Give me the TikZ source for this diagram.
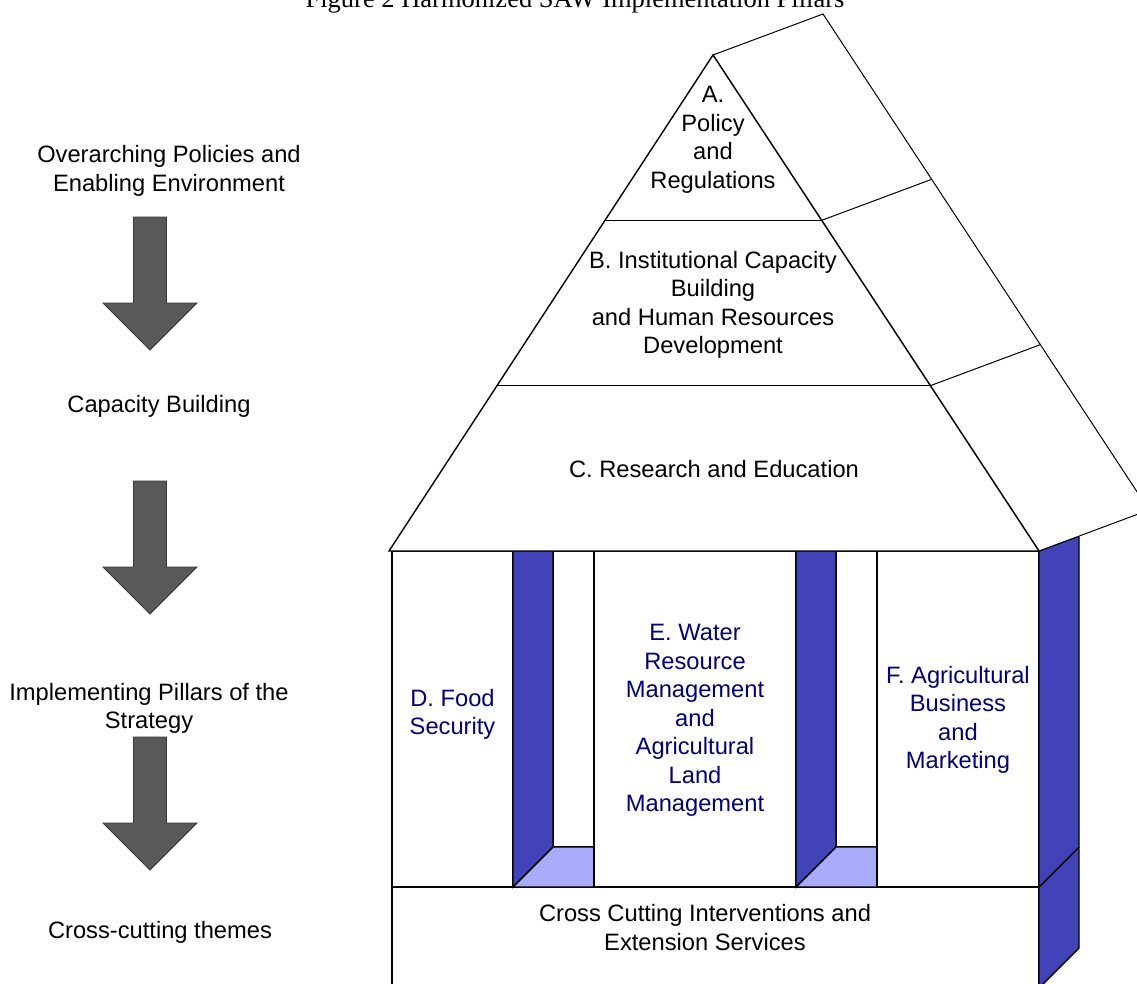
\documentclass[tikz,border=0pt]{standalone}
\usepackage{fontspec}
\setmainfont{Liberation Serif}
\newfontfamily\arialfont{Liberation Sans}
\usetikzlibrary{calc}

\definecolor{pillarblue}{RGB}{66,66,185}
\definecolor{floorblue}{RGB}{170,170,250}
\definecolor{labelnavy}{RGB}{0,0,128}
\definecolor{arrowgray}{RGB}{89,89,89}
\definecolor{arrowedge}{RGB}{55,55,55}

\tikzset{
  downarrow/.pic={
    \filldraw[fill=arrowgray, draw=arrowedge, line width=0.8pt, line join=miter]
      (-16.5,0) -- (16.5,0) -- (16.5,-86) -- (47,-86) -- (0,-133)
      -- (-47,-86) -- (-16.5,-86) -- cycle;
  }
}

\begin{document}
\begin{tikzpicture}[x=1pt,y=1pt,
  every node/.style={inner sep=0pt},
  lbl/.style={font=\arialfont\fontsize{23.7}{28.5}\selectfont, align=center},
  pillartext/.style={lbl, text=labelnavy},
  edge/.style={line width=1.4pt, line join=miter},
  thinedge/.style={line width=1pt, line join=miter},
]
\useasboundingbox (0,0) rectangle (1137,-983);
\clip (0,0) rectangle (1137,-983);

% ---------- title ----------
\node[font=\fontsize{26.5}{30}\selectfont, anchor=base] (title) at (575,-7)
  {Figure 2 Harmonized SAW Implementation Pillars};

% ---------- left column: stages and arrows ----------
\node[lbl] (stage1) at (169,-171) {Overarching Policies and\\Enabling Environment};
\node[lbl] (stage2) at (159,-406) {Capacity Building};
\node[lbl] (stage3) at (149,-708.5) {Implementing Pillars of the\\Strategy};
\node[lbl] (stage4) at (160,-932) {Cross-cutting themes};

\pic at (150,-217) {downarrow};
\pic at (150,-481) {downarrow};
\pic at (150,-737) {downarrow};

% ---------- building body ----------
% base slab (cross-cutting)
\draw[edge, fill=white] (392,-887) rectangle (1039,-995);
% pillar D
\draw[edge, fill=white] (392,-551) rectangle (513,-887);
% first recess
\draw[edge, fill=white] (553,-551) rectangle (594,-847);
\draw[edge, fill=pillarblue] (513,-551) -- (553,-551) -- (553,-847) -- (513,-887) -- cycle;
\draw[edge, fill=floorblue] (513,-887) -- (553,-847) -- (594,-847) -- (594,-887) -- cycle;
% pillar E
\draw[edge, fill=white] (594,-551) rectangle (796,-887);
% second recess
\draw[edge, fill=white] (836,-551) rectangle (877,-847);
\draw[edge, fill=pillarblue] (796,-551) -- (836,-551) -- (836,-847) -- (796,-887) -- cycle;
\draw[edge, fill=floorblue] (796,-887) -- (836,-847) -- (877,-847) -- (877,-887) -- cycle;
% pillar F
\draw[edge, fill=white] (877,-551) rectangle (1039,-887);
% right side face of the building
\draw[edge, fill=pillarblue] (1039,-551) -- (1079,-536) -- (1079,-948) -- (1039,-988) -- cycle;
\draw[edge] (1039,-887) -- (1079,-847);

% ---------- roof ----------
\coordinate (FA) at (713,-55);
\coordinate (LB) at (389,-551);
\coordinate (RB) at (1039,-551);
\coordinate (off) at (110,41);
\coordinate (BA) at ($(FA)+(off)$);
\coordinate (BB) at ($(RB)+(off)$);
\coordinate (L1) at ($(FA)!1/3!(LB)$);
\coordinate (R1) at ($(FA)!1/3!(RB)$);
\coordinate (L2) at ($(FA)!2/3!(LB)$);
\coordinate (R2) at ($(FA)!2/3!(RB)$);

% sloping side of the roof
\draw[thinedge, fill=white] (FA) -- (BA) -- (BB) -- (RB) -- cycle;
\draw[thinedge] (R1) -- ($(R1)+(off)$);
\draw[thinedge] (R2) -- ($(R2)+(off)$);
% front gable
\draw[edge, fill=white] (FA) -- (LB) -- (RB) -- cycle;
\draw[edge] (L1) -- (R1);
\draw[edge] (L2) -- (R2);

% ---------- labels ----------
\node[lbl] (roofA) at (713,-140) {A.\\Policy\\and\\Regulations};
\node[lbl] (roofB) at (713,-305) {B. Institutional Capacity\\Building\\and Human Resources\\Development};
\node[lbl] (roofC) at (714,-469) {C. Research and Education};

\node[pillartext] (pillarD) at (452.5,-714.5) {D. Food\\Security};
\node[pillartext] (pillarE) at (695,-720.5) {E. Water\\Resource\\Management\\and\\Agricultural\\Land\\Management};
\node[pillartext] (pillarF) at (958,-720) {F. Agricultural\\Business\\and\\Marketing};

\node[lbl] (base) at (705,-927.5) {Cross Cutting Interventions and\\Extension Services};
\end{tikzpicture}
\end{document}
